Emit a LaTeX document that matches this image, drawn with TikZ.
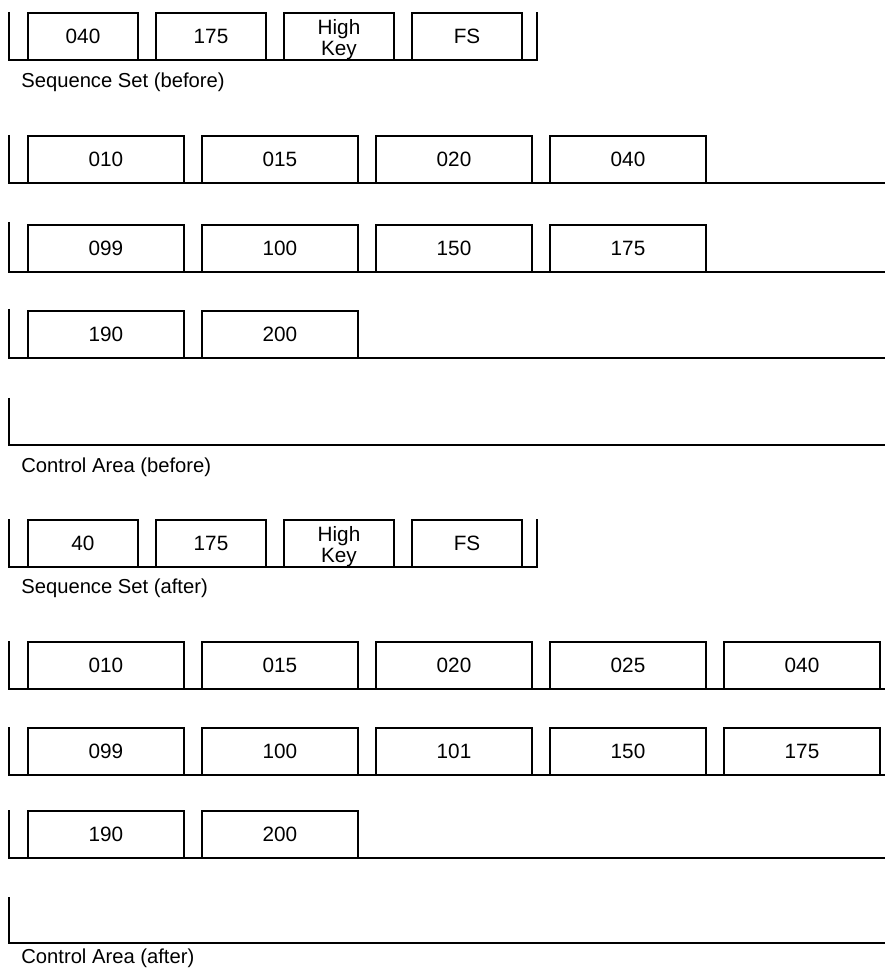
\documentclass[tikz,border=0pt]{standalone}
\usepackage{fontspec}
\setmainfont{Liberation Sans}

\begin{document}
\begin{tikzpicture}[x=0.02cm,y=-0.02cm,
  rec/.style={draw, rectangle, line width=1.1pt, inner sep=0pt, outer sep=0pt,
    minimum width=3.12cm, minimum height=0.94cm, anchor=south west,
    align=center, font=\fontsize{11.8}{12}\selectfont},
  ssrec/.style={rec, minimum width=2.2cm},
  shelf/.style={line width=1.4pt},
  areatext/.style={anchor=west, inner sep=0pt, font=\fontsize{11.5}{12}\selectfont}]
  \useasboundingbox (0,0) rectangle (885,972);

  % Sequence set (before)
  \draw[shelf] (9,12) |- (537,60) -- (537,12);
  \node[ssrec] (sb1) at (28,60) {040};
  \node[ssrec] (sb2) at (156,60) {175};
  \node[ssrec] (sb3) at (284,60) {\rule{0pt}{11.8pt}High\\Key};
  \node[ssrec] (sb4) at (412,60) {FS};
  \node[areatext] (ssb) at (21,82) {Sequence Set (before)};

  % Control area (before), CI 1
  \draw[shelf] (9,135) |- (885,183);
  \node[rec] (cb11) at (28,183) {010};
  \node[rec] (cb12) at (202,183) {015};
  \node[rec] (cb13) at (376,183) {020};
  \node[rec] (cb14) at (550,183) {040};

  % CI 2
  \draw[shelf] (9,222) |- (885,272);
  \node[rec] (cb21) at (28,272) {099};
  \node[rec] (cb22) at (202,272) {100};
  \node[rec] (cb23) at (376,272) {150};
  \node[rec] (cb24) at (550,272) {175};

  % CI 3
  \draw[shelf] (9,309) |- (885,358);
  \node[rec] (cb31) at (28,358) {190};
  \node[rec] (cb32) at (202,358) {200};

  % CI 4 (empty)
  \draw[shelf] (9,398) |- (885,445);
  \node[areatext] (cab) at (21,467) {Control Area (before)};

  % Sequence set (after)
  \draw[shelf] (9,519) |- (537,567) -- (537,519);
  \node[ssrec] (sa1) at (28,567) {40};
  \node[ssrec] (sa2) at (156,567) {175};
  \node[ssrec] (sa3) at (284,567) {\rule{0pt}{11.8pt}High\\Key};
  \node[ssrec] (sa4) at (412,567) {FS};
  \node[areatext] (ssa) at (21,588) {Sequence Set (after)};

  % Control area (after), CI 1
  \draw[shelf] (9,641) |- (885,689);
  \node[rec] (ca11) at (28,689) {010};
  \node[rec] (ca12) at (202,689) {015};
  \node[rec] (ca13) at (376,689) {020};
  \node[rec] (ca14) at (550,689) {025};
  \node[rec] (ca15) at (724,689) {040};

  % CI 2
  \draw[shelf] (9,727) |- (885,775);
  \node[rec] (ca21) at (28,775) {099};
  \node[rec] (ca22) at (202,775) {100};
  \node[rec] (ca23) at (376,775) {101};
  \node[rec] (ca24) at (550,775) {150};
  \node[rec] (ca25) at (724,775) {175};

  % CI 3
  \draw[shelf] (9,810) |- (885,858);
  \node[rec] (ca31) at (28,858) {190};
  \node[rec] (ca32) at (202,858) {200};

  % CI 4 (empty)
  \draw[shelf] (9,897) |- (885,943);
  \node[areatext] (caa) at (21,958) {Control Area (after)};
\end{tikzpicture}
\end{document}
